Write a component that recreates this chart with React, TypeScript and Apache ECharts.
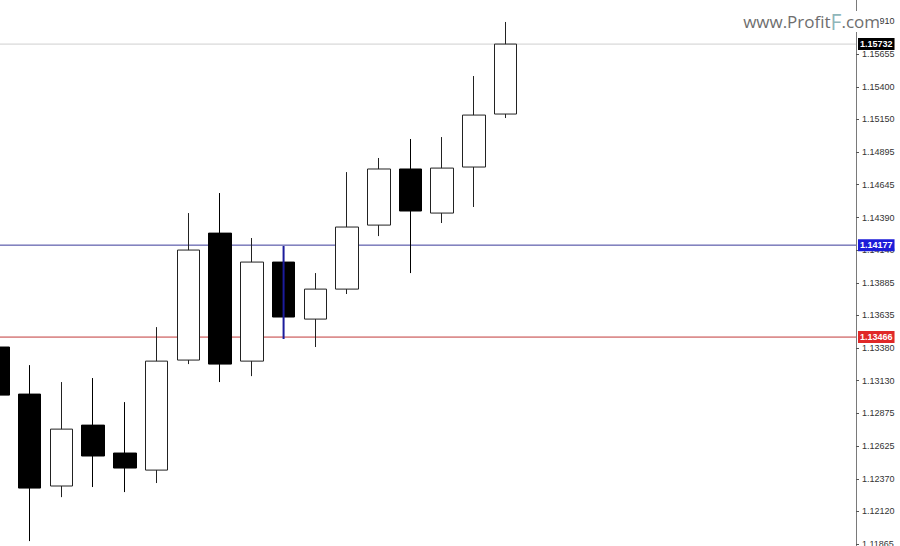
import React, { useEffect, useRef } from "react";
import * as echarts from "echarts";

// candle index, open, close, low, high
const candleIndex = [0, 1, 2, 3, 4, 5, 6, 7, 8, 9, 10, 11, 12, 13, 14, 15, 16];
const opens = [1.13389, 1.13025, 1.12314, 1.12785, 1.12569, 1.12437, 1.13288, 1.14270, 1.13280, 1.14046, 1.13605, 1.13837, 1.14332, 1.14766, 1.14425, 1.14781, 1.15191];
const closes = [1.13017, 1.12298, 1.12754, 1.12546, 1.12453, 1.13280, 1.14139, 1.13257, 1.14046, 1.13621, 1.13837, 1.14317, 1.14766, 1.14441, 1.14773, 1.15183, 1.15732];
const lows = [1.12979, 1.11888, 1.12228, 1.12306, 1.12267, 1.12337, 1.13257, 1.13118, 1.13164, 1.13451, 1.13389, 1.13799, 1.14247, 1.13961, 1.14348, 1.14472, 1.15160];
const highs = [1.13443, 1.13249, 1.13118, 1.13149, 1.12963, 1.13543, 1.14425, 1.14580, 1.14232, 1.14170, 1.13961, 1.14742, 1.14851, 1.14998, 1.15013, 1.15485, 1.15903];

const tickLabels = [1.1591, 1.15655, 1.154, 1.1515, 1.14895, 1.14645, 1.1439, 1.1414, 1.13885, 1.13635, 1.1338, 1.1313, 1.12875, 1.12625, 1.1237, 1.1212, 1.11865];

const levelValues = [1.15732, 1.14177, 1.13466];
const levelLineColors = ["#cfcfcf", "#3a3a9a", "#c23a3a"];
const levelBoxColors = ["#000000", "#1c1cd8", "#e02828"];

// vertical drawn line on candle 9
const drawnLineX = [9, 9];
const drawnLineY = [1.1417, 1.13451];

const X_MIN = 0.063;
const X_MAX = 27.04;

export default function App() {
  const ref = useRef<HTMLDivElement>(null);
  useEffect(() => {
    if (!ref.current) return;
    const chart = echarts.init(ref.current, null, { renderer: "svg" });
    const candleData = candleIndex.map((x, i) => [x, opens[i], closes[i], lows[i], highs[i]]);
    const font = "Liberation Sans";
    const levelSeries = levelValues.map((v, i) => ({
      type: "line",
      name: "level" + i,
      data: [
        [X_MIN, v],
        [X_MAX, v],
      ],
      symbol: "none",
      silent: true,
      color: levelLineColors[i],
      lineStyle: { color: levelLineColors[i], width: 1 },
      z: 1,
      endLabel: {
        show: true,
        distance: 2,
        formatter: () => v.toFixed(5),
        color: "#ffffff",
        backgroundColor: levelBoxColors[i],
        padding: [2, 2, 1, 2],
        fontSize: 9,
        fontWeight: "bold",
        fontFamily: font,
      },
    }));
    chart.setOption({
      animation: false,
      backgroundColor: "#ffffff",
      grid: { left: 0, right: 44, top: 0, bottom: 0, containLabel: false, outerBoundsMode: "none" },
      xAxis: {
        type: "value",
        min: X_MIN,
        max: X_MAX,
        show: false,
      },
      yAxis: {
        type: "value",
        position: "right",
        min: 1.1185,
        max: 1.16073,
        splitLine: { show: false },
        axisLine: { show: true, onZero: false, lineStyle: { color: "#7a7a7a", width: 1 } },
        axisTick: { show: true, length: 3, customValues: tickLabels, lineStyle: { color: "#555" } },
        axisLabel: {
          show: true,
          customValues: tickLabels,
          formatter: (v: number) => v.toFixed(5),
          color: "#333333",
          fontSize: 9,
          fontFamily: font,
          margin: 6,
        },
      },
      graphic: [
        {
          type: "text",
          right: 20,
          top: 11,
          z: 100,
          style: {
            text: "{a|www.Profit}{f|F}{a|.com}",
            backgroundColor: "#ffffff",
            rich: {
              a: { fontSize: 17, fontFamily: "Open Sans", fill: "#6e6e6e", color: "#6e6e6e" },
              f: { fontSize: 21, fontFamily: "Open Sans", fill: "#8fb6ba", color: "#8fb6ba" },
            },
          },
        },
      ],
      series: [
        ...levelSeries,
        {
          type: "candlestick",
          data: candleData,
          barWidth: 23,
          itemStyle: {
            color: "#ffffff",
            color0: "#000000",
            borderColor: "#222222",
            borderColor0: "#000000",
            borderWidth: 1,
          },
          z: 2,
        },
        {
          type: "line",
          data: drawnLineX.map((x, i) => [x, drawnLineY[i]]),
          symbol: "none",
          color: "#1c1c9c",
          lineStyle: { color: "#1c1c9c", width: 2 },
          z: 5,
        },
      ],
    });
    return () => chart.dispose();
  }, []);
  return (
    <div
      ref={ref}
      style={{ position: "fixed", left: 0, top: 0, width: 900, height: 546 }}
    />
  );
}
